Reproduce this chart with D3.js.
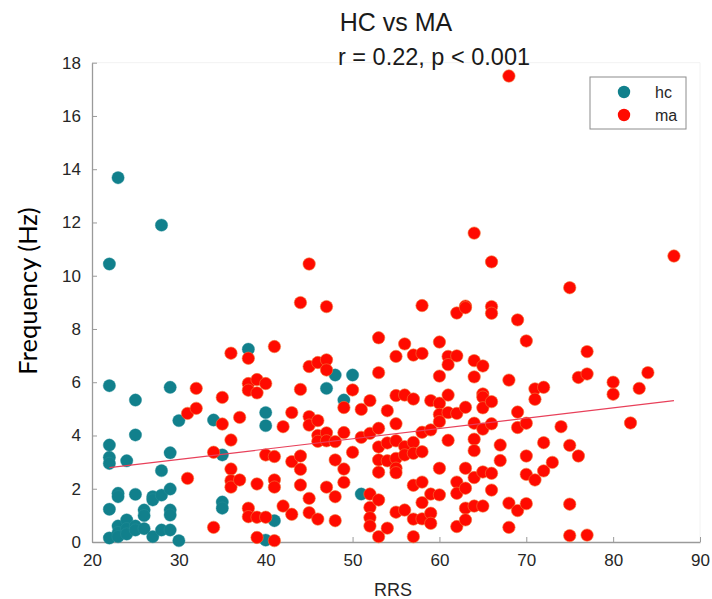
<!DOCTYPE html>
<html><head><meta charset="utf-8">
<script src="https://cdn.jsdelivr.net/npm/d3@7"></script>
<style>body{margin:0;background:#fff;} svg{display:block;}</style>
</head><body>
<svg id="c" width="712" height="599"></svg>
<script>
// ---- data ----
const hcRRS = [22,22,22,22,22,22,22, 23,23,23,23,23,23, 24,24,24,24, 25,25,25,25,25, 26,26,26, 27,27,27, 28,28,28,28, 29,29,29,29,29,29, 30,30, 34,35,35,35,38,40,40,40,41,47,48,49,50,51];
const hcFreq = [10.44,5.87,3.64,3.18,2.95,1.23,0.15, 13.68,1.83,1.7,0.6,0.35,0.2, 3.05,0.83,0.5,0.3, 5.33,4.02,1.79,0.6,0.45, 1.2,0.99,0.5, 1.7,1.58,0.2, 11.9,2.68,1.76,0.45, 5.81,3.35,1.99,1.2,1.01,0.45, 4.56,0.05, 4.58,3.27,1.5,1.27,7.24,4.86,4.37,0.07,0.8,5.77,6.27,5.33,6.27,1.8];

const maCols = [31,32,34,35,36,37,38,39,40,41,42,43,44,45,46,47,48,49,50,51,52,53,54,55,56,57,58,59,60,61,62,63,64,65,66,67,68,69,70,71,72,73,74,75,76,77,80,82,83,84,87];
const maFreqByCol = [
 [4.83,2.39],[5.02,5.77],[3.37,0.55],[5.43,4.43],[7.09,3.83,2.74,2.3,2.06],[4.68,2.33],
 [6.9,5.95,5.7,1.27,0.95],[6.1,5.6,2.18,0.93,0.17],[5.95,3.27,0.93],[7.34,3.21,2.33,2.06,0.05],
 [4.33,1.35],[4.86,3.02,1.04],[8.99,5.73,3.23,2.73,2.14],[10.44,6.59,4.71,4.39,1.64,1.1],
 [6.74,4.56,4.0,3.78,0.86],[8.84,6.84,6.46,4.1,3.8,2.06],[3.77,3.08,1.7,0.8],[5.05,4.11,2.74,2.24],
 [5.71,3.37],[4.98,3.93],[5.31,4.08,1.8,1.3,0.91,0.6],[7.67,6.36,4.27,3.57,3.08,2.62,1.58,0.2],
 [4.93,3.72,3.05,0.52],[6.97,5.5,4.44,3.8,3.14,2.77,2.6,1.12],[7.44,5.52,3.58,3.27,1.2],
 [7.02,5.37,3.74,3.33,2.13,0.86,0.2],[8.88,7.08,4.12,3.39,2.25,1.48,0.87],[5.31,4.21,1.8,1.08,0.7],
 [7.51,6.23,5.21,4.79,4.52,2.77,1.77],[6.97,6.66,5.52,4.86,3.82],[8.6,6.99,4.83,2.25,1.83,0.58],
 [8.86,8.8,5.06,2.77,2.02,1.27,0.83],[11.6,6.81,6.2,4.46,3.86,3.43,2.42,1.35],
 [6.61,5.56,5.44,5.04,4.24,2.63,1.35],[10.52,8.84,8.59,5.27,4.44,2.58,1.95],[3.64,3.06],
 [17.5,6.08,1.46,0.55],[8.34,4.88,4.3,1.18],[7.55,4.46,3.23,2.54,1.44],[5.75,5.36,2.33],
 [5.81,3.73,2.67],[2.99],[4.33],[9.55,3.63,1.42,0.24],[6.18,3.23],[7.15,6.31,0.26],
 [6.0,5.55],[4.47],[5.77],[6.36],[10.74]
];
const fitX = [22, 87];
const fitY = [2.79, 5.31];
const xTicks = [20,30,40,50,60,70,80,90];
const yTicks = [0,2,4,6,8,10,12,14,16,18];
const seriesNames = ["hc","ma"];
const seriesColors = ["#11808c","#ff0a00"];

// ---- chart ----
const svg = d3.select("#c");
const x = d3.scaleLinear().domain([20,90]).range([92,700]);
const y = d3.scaleLinear().domain([0,18]).range([542,62.7]);
const font = "'Liberation Sans', Arial, sans-serif";

// faint box lines (top/right)
svg.append("line").attr("x1",92).attr("x2",700).attr("y1",y(18)).attr("y2",y(18)).attr("stroke","#f2f2f2");
svg.append("line").attr("x1",700).attr("x2",700).attr("y1",y(18)).attr("y2",y(0)).attr("stroke","#f2f2f2");

const xAxis = svg.append("g").attr("transform","translate(0,542)")
  .call(d3.axisBottom(x).tickValues(xTicks).tickSizeInner(-5).tickSizeOuter(0).tickPadding(12));
const yAxis = svg.append("g").attr("transform","translate(92,0)")
  .call(d3.axisLeft(y).tickValues(yTicks).tickSizeInner(-5).tickSizeOuter(0).tickPadding(11));
[xAxis,yAxis].forEach(g=>{
  g.select(".domain").attr("stroke","#9a9a9a").attr("stroke-width",1.3);
  g.selectAll(".tick line").attr("stroke","#9a9a9a");
  g.selectAll("text").attr("fill","#262626").style("font-family",font).style("font-size","17px");
});

// points
const hcData = hcRRS.map((r,i)=>({x:r,y:hcFreq[i]}));
const maData = [];
maCols.forEach((c,i)=>maFreqByCol[i].forEach(v=>maData.push({x:c,y:v})));

svg.append("g").selectAll("circle").data(hcData).join("circle")
  .attr("cx",d=>x(d.x)).attr("cy",d=>y(d.y)).attr("r",6.2)
  .attr("fill",seriesColors[0]).attr("stroke","#2a8f99").attr("stroke-width",0.4);
svg.append("g").selectAll("circle").data(maData).join("circle")
  .attr("cx",d=>x(d.x)).attr("cy",d=>y(d.y)).attr("r",6.2)
  .attr("fill",seriesColors[1]).attr("stroke","#f07a3a").attr("stroke-width",0.6);

// fit line
svg.append("path").datum(fitX.map((v,i)=>[v,fitY[i]]))
  .attr("d",d3.line().x(d=>x(d[0])).y(d=>y(d[1])))
  .attr("stroke","#e8405a").attr("stroke-width",1.2).attr("fill","none");

// titles
svg.append("text").attr("x",396).attr("y",31).attr("text-anchor","middle")
  .style("font-family",font).style("font-size","25px").attr("fill","#1a1a1a").text("HC vs MA");
svg.append("text").attr("x",434).attr("y",65).attr("text-anchor","middle")
  .style("font-family",font).style("font-size","23.5px").attr("fill","#1a1a1a").text("r = 0.22, p < 0.001");

// axis labels
svg.append("text").attr("x",393).attr("y",596).attr("text-anchor","middle")
  .style("font-family",font).style("font-size","18px").attr("fill","#262626").text("RRS");
svg.append("text").attr("transform","translate(37,291) rotate(-90)").attr("text-anchor","middle")
  .style("font-family","Lato, 'Open Sans', sans-serif").style("font-size","25.5px").attr("fill","#000").text("Frequency (Hz)");

// legend
const lg = svg.append("g");
lg.append("rect").attr("x",590).attr("y",77).attr("width",96).attr("height",52)
  .attr("fill","#fff").attr("stroke","#8c8c8c").attr("stroke-width",1);
seriesNames.forEach((n,i)=>{
  lg.append("circle").attr("cx",624).attr("cy",92+i*23).attr("r",6.2).attr("fill",seriesColors[i]);
  lg.append("text").attr("x",655).attr("y",98+i*23).style("font-family",font).style("font-size","16px")
    .attr("fill","#262626").text(n);
});
</script>
</body></html>
